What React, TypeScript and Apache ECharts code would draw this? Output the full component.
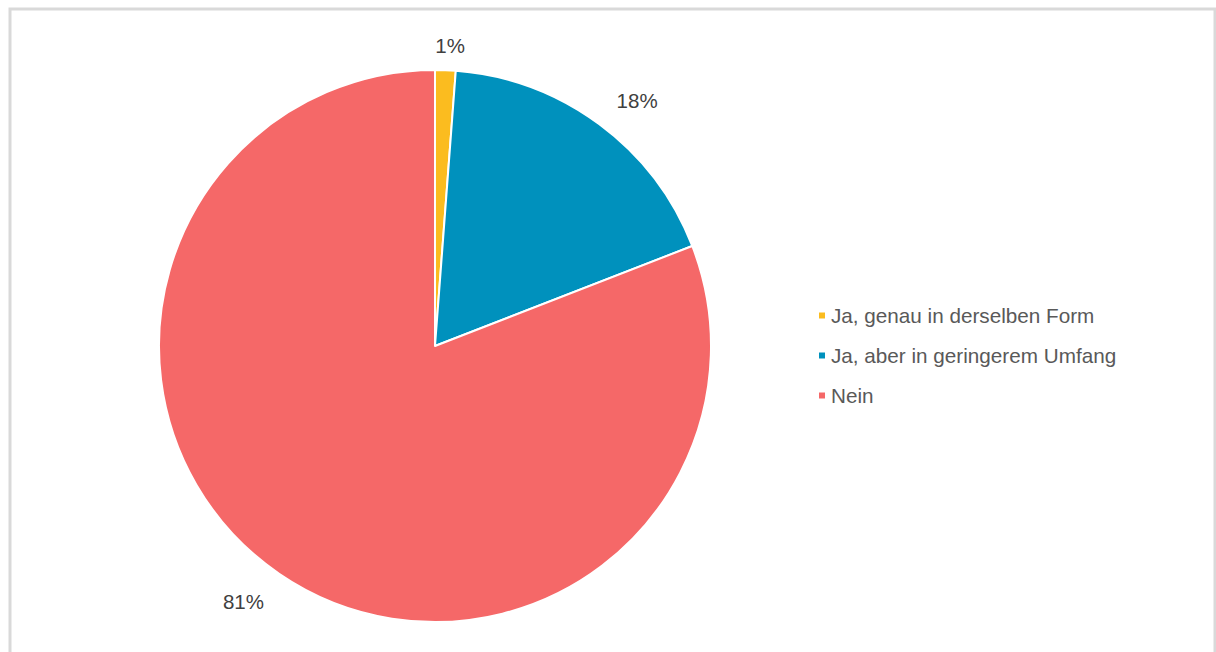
import React, { useEffect, useRef } from "react";
import * as echarts from "echarts";

const categories = [
  "Ja, genau in derselben Form",
  "Ja, aber in geringerem Umfang",
  "Nein",
];
const values = [1.2, 17.9, 80.9];
const labels = ["1%", "18%", "81%"];
const colors = ["#FBBC1F", "#0091BD", "#F56868"];

export default function App() {
  const ref = useRef<HTMLDivElement>(null);
  useEffect(() => {
    if (!ref.current) return;
    const chart = echarts.init(ref.current, undefined, { renderer: "svg" });
    const labelTweaks: any[] = [
      { distanceToLabelLine: -11 },
      {},
      { distanceToLabelLine: -4 },
    ];
    const lineTweaks: any[] = [{ length: 25 }, {}, { length: 34 }];
    chart.setOption({
      animation: false,
      backgroundColor: "#ffffff",
      graphic: [
        {
          type: "rect",
          shape: { x: 10, y: 9, width: 1205, height: 700 },
          style: { fill: "none", stroke: "#d9d9d9", lineWidth: 3 },
          silent: true,
        },
      ],
      legend: {
        orient: "vertical",
        left: 812,
        top: 300,
        itemWidth: 8,
        itemHeight: 8,
        itemGap: 19,
        icon: "rect",
        textStyle: {
          fontFamily: "Liberation Sans, Arial, sans-serif",
          fontSize: 20.7,
          color: "#595959",
        },
        data: categories,
      },
      series: [
        {
          type: "pie",
          center: [435, 346],
          radius: [0, 276],
          startAngle: 90,
          clockwise: true,
          avoidLabelOverlap: false,
          itemStyle: { borderColor: "#ffffff", borderWidth: 2 },
          label: {
            show: true,
            position: "outside",
            distanceToLabelLine: 0,
            fontFamily: "Liberation Sans, Arial, sans-serif",
            fontSize: 20.5,
            color: "#404040",
            formatter: (p: any) => labels[p.dataIndex],
          },
          labelLine: { show: false, length: 29, length2: 0 },
          emphasis: { disabled: true },
          data: categories.map((name, i) => ({
            name,
            value: values[i],
            itemStyle: { color: colors[i] },
            label: labelTweaks[i],
            labelLine: lineTweaks[i],
          })),
        },
      ],
    });
    return () => chart.dispose();
  }, []);
  return (
    <div
      ref={ref}
      style={{ position: "fixed", left: 0, top: 0, width: 1216, height: 652 }}
    />
  );
}
